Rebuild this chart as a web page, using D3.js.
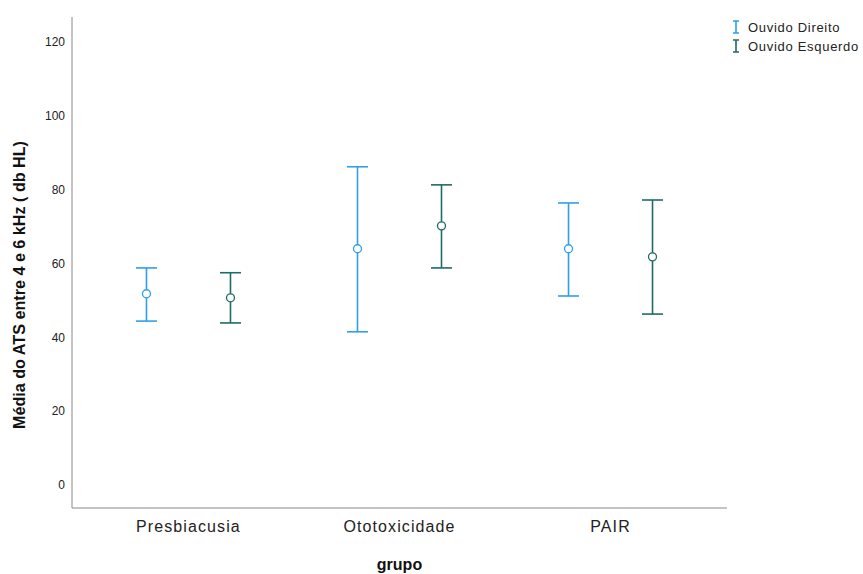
<!DOCTYPE html>
<html>
<head>
<meta charset="utf-8">
<script src="https://cdn.jsdelivr.net/npm/d3@7"></script>
<style>
  body { margin: 0; background: #fff; }
  text { font-family: "Liberation Sans", Arial, sans-serif; }
</style>
</head>
<body>
<div class="chart"></div>
<script>
var svgWidth = 863;
var svgHeight = 574;

var margin = { top: 17, right: 136, bottom: 66, left: 72 };
var width = svgWidth - margin.left - margin.right;
var height = svgHeight - margin.top - margin.bottom;

// data
var groups = ["Presbiacusia", "Ototoxicidade", "PAIR"];
var series = ["Ouvido Direito", "Ouvido Esquerdo"];
var colors = ["#2f9fea", "#1f6b67"];
var meanDireito = [51.8, 64.0, 64.0];
var lowDireito = [44.4, 41.5, 51.2];
var highDireito = [58.8, 86.2, 76.4];
var meanEsquerdo = [50.7, 70.2, 61.8];
var lowEsquerdo = [43.9, 58.8, 46.3];
var highEsquerdo = [57.5, 81.3, 77.2];
var yTicks = [0, 20, 40, 60, 80, 100, 120];

var rows = [];
groups.forEach(function(g, i) {
  rows.push({ group: g, s: 0, mean: meanDireito[i], low: lowDireito[i], high: highDireito[i] });
  rows.push({ group: g, s: 1, mean: meanEsquerdo[i], low: lowEsquerdo[i], high: highEsquerdo[i] });
});

var svg = d3.select(".chart")
  .append("svg")
  .attr("width", svgWidth)
  .attr("height", svgHeight);

var chart = svg.append("g")
  .attr("transform", "translate(" + margin.left + "," + margin.top + ")");

var xScale = d3.scalePoint()
  .domain(groups)
  .range([0, width])
  .padding(0.552);

var offset = d3.scalePoint().domain([0, 1]).range([-42, 42]);

var yScale = d3.scaleLinear()
  .domain([0, 120])
  .range([468, 25]);

// axes lines
chart.append("line")
  .attr("x1", 0).attr("x2", 0).attr("y1", 0).attr("y2", height)
  .attr("stroke", "#888").attr("stroke-width", 1);
chart.append("line")
  .attr("x1", 0).attr("x2", width).attr("y1", height).attr("y2", height)
  .attr("stroke", "#888").attr("stroke-width", 1);

// y tick labels
chart.selectAll(".ytick")
  .data(yTicks)
  .enter().append("text")
  .attr("x", -7)
  .attr("y", function(d) { return yScale(d); })
  .attr("dy", "0.35em")
  .attr("text-anchor", "end")
  .style("font-size", "12px")
  .style("fill", "#222")
  .text(function(d) { return d; });

// x category labels
chart.selectAll(".xtick")
  .data(groups)
  .enter().append("text")
  .attr("x", function(d) { return xScale(d); })
  .attr("y", height + 24)
  .attr("text-anchor", "middle")
  .style("font-size", "16px")
  .style("letter-spacing", "1.1px")
  .style("fill", "#222")
  .text(function(d) { return d; });

// error bars
var bars = chart.selectAll(".bar")
  .data(rows)
  .enter().append("g")
  .attr("transform", function(d) { return "translate(" + (xScale(d.group) + offset(d.s)) + ",0)"; })
  .attr("stroke", function(d) { return colors[d.s]; })
  .attr("stroke-width", 1.6)
  .attr("fill", "none");

bars.append("line")
  .attr("x1", 0).attr("x2", 0)
  .attr("y1", function(d) { return yScale(d.low); })
  .attr("y2", function(d) { return yScale(d.high); });
bars.append("line")
  .attr("x1", -10.5).attr("x2", 10.5)
  .attr("y1", function(d) { return yScale(d.low); })
  .attr("y2", function(d) { return yScale(d.low); });
bars.append("line")
  .attr("x1", -10.5).attr("x2", 10.5)
  .attr("y1", function(d) { return yScale(d.high); })
  .attr("y2", function(d) { return yScale(d.high); });
bars.append("circle")
  .attr("cx", 0)
  .attr("cy", function(d) { return yScale(d.mean); })
  .attr("r", 4)
  .attr("fill", "#fff")
  .attr("stroke-width", 1.3);

// y axis title
svg.append("text")
  .attr("transform", "translate(25," + 285 + ") rotate(-90)")
  .attr("text-anchor", "middle")
  .attr("textLength", 288)
  .attr("lengthAdjust", "spacingAndGlyphs")
  .style("font-size", "16px")
  .style("font-weight", "bold")
  .style("fill", "#111")
  .text("Média do ATS entre 4 e 6 kHz ( db HL)");

// x axis title
svg.append("text")
  .attr("x", margin.left + xScale(groups[1]))
  .attr("y", 570)
  .attr("text-anchor", "middle")
  .style("font-size", "16px")
  .style("font-weight", "bold")
  .style("fill", "#111")
  .text("grupo");

// legend
var legend = svg.selectAll(".legend")
  .data(series)
  .enter().append("g")
  .attr("transform", function(d, i) { return "translate(736," + (27 + i * 19) + ")"; });

legend.append("path")
  .attr("d", "M-3,-6H3M0,-6V6M-3,6H3")
  .attr("stroke", function(d, i) { return colors[i]; })
  .attr("stroke-width", 1.6)
  .attr("fill", "none");

legend.append("text")
  .attr("x", 12)
  .attr("dy", "0.35em")
  .style("font-size", "13px")
  .style("letter-spacing", "0.7px")
  .style("fill", "#222")
  .text(function(d) { return d; });
</script>
</body>
</html>
